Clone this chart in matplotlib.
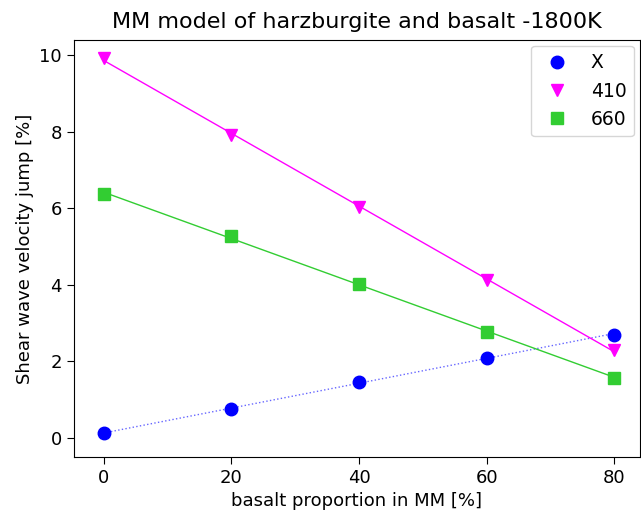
import numpy as np
import matplotlib
matplotlib.use("Agg")
import matplotlib.pyplot as plt

# basalt proportion [%]
basalt = [0, 20, 40, 60, 80]
jump_X = [0.12, 0.76, 1.47, 2.10, 2.70]
jump_410 = [9.92, 7.92, 6.03, 4.13, 2.30]
jump_660 = [6.37, 5.27, 4.03, 2.78, 1.57]

fig = plt.figure(figsize=(6.41, 5.13), dpi=100)
ax = fig.add_subplot(111)

xx = np.array(basalt)

# linear fits
pX = np.polyfit(basalt, jump_X, 1)
p410 = np.polyfit(basalt, jump_410, 1)
p660 = np.polyfit(basalt, jump_660, 1)

ax.plot(xx, np.polyval(pX, xx), ':', color='blue', lw=1, alpha=0.6)
ax.plot(xx, np.polyval(p410, xx), '-', color='magenta', lw=1)
ax.plot(xx, np.polyval(p660, xx), '-', color='limegreen', lw=1)

ax.plot(basalt, jump_X, 'o', color='blue', ms=9, label='X')
ax.plot(basalt, jump_410, 'v', color='magenta', ms=9, label='410')
ax.plot(basalt, jump_660, 's', color='limegreen', ms=9, label='660')

ax.set_xlim(-4.7, 84.0)
ax.set_ylim(-0.5, 10.4)
ax.set_xticks([0, 20, 40, 60, 80])
ax.set_yticks([0, 2, 4, 6, 8, 10])
ax.tick_params(labelsize=13, length=5)
ax.set_xlabel("basalt proportion in MM [%]", fontsize=13)
ax.set_ylabel("Shear wave velocity jump [%]", fontsize=13)
ax.set_title("MM model of harzburgite and basalt -1800K", fontsize=16, pad=9)
ax.legend(loc='upper right', fontsize=13.5, borderaxespad=0.3)

plt.subplots_adjust(left=0.115, right=0.998, top=0.922, bottom=0.109)
plt.savefig("out.png")
